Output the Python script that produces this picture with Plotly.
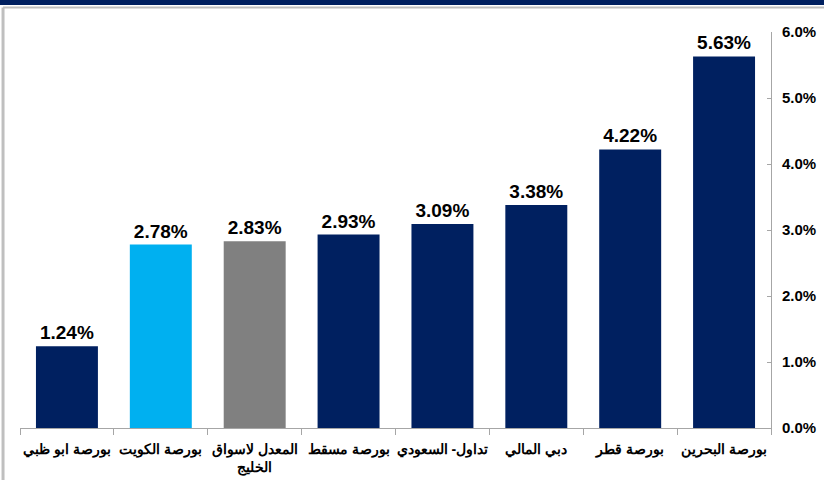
import plotly.graph_objects as go

categories = ["بورصة ابو ظبي", "بورصة الكويت", "المعدل لاسواق<br>الخليج", "بورصة مسقط",
              "تداول- السعودي", "دبي المالي", "بورصة قطر", "بورصة البحرين"]
values = [1.24, 2.78, 2.83, 2.93, 3.09, 3.38, 4.22, 5.63]
colors = ["#002060", "#00B0F0", "#808080", "#002060", "#002060", "#002060", "#002060", "#002060"]
tick_vals = [0, 1, 2, 3, 4, 5, 6]
tick_text = ["0.0%", "1.0%", "2.0%", "3.0%", "4.0%", "5.0%", "6.0%"]

fig = go.Figure(go.Bar(
    x=categories, y=values, marker=dict(color=colors, line=dict(width=0)),
    texttemplate="%{y:.2f}%", textposition="outside", cliponaxis=False,
    textfont=dict(family="Arial", size=19, color="#000000", weight="bold"),
))

fig.update_layout(
    width=824, height=480,
    margin=dict(l=20, r=53, t=32, b=52, autoexpand=False),
    paper_bgcolor="white", plot_bgcolor="white",
    bargap=0.34, showlegend=False,
    font=dict(family="Arial", color="#000000"),
    xaxis=dict(type="category", showline=True, linecolor="#A6A6A6", linewidth=1,
               ticks="outside", tickson="boundaries", ticklen=6, tickcolor="#A6A6A6",
               tickangle=0, automargin=False, ticklabelstandoff=8,
               tickfont=dict(family="Arial", size=14, weight="bold", color="#000000"),
               showgrid=False, fixedrange=True),
    yaxis=dict(side="right", range=[0, 6], tickmode="array", tickvals=tick_vals, ticktext=tick_text,
               showline=True, linecolor="#A6A6A6", linewidth=1, ticks="inside", ticklen=4,
               tickcolor="#A6A6A6", showgrid=False, zeroline=False, automargin=False,
               ticklabelstandoff=7,
               tickfont=dict(family="Arial", size=15, weight="bold", color="#000000")),
    shapes=[
        dict(type="rect", xref="paper", yref="paper", x0=-0.03, x1=1.08, y0=1.068, y1=1.09,
             fillcolor="#002060", line=dict(width=0), layer="above"),
        dict(type="line", xref="paper", yref="paper", x0=-0.0226, x1=1.08, y0=1.062, y1=1.062,
             line=dict(color="#BFBFBF", width=2)),
        dict(type="line", xref="paper", yref="paper", x0=-0.0226, x1=-0.0226, y0=1.062, y1=-0.14,
             line=dict(color="#BFBFBF", width=3)),
    ],
)

fig.write_html("out.html", config={"displayModeBar": False},
               post_script="document.body.style.margin='0';")
